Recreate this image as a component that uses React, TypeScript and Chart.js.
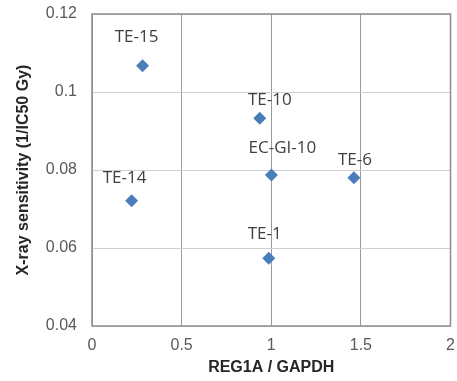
import React, { useEffect, useRef } from "react";
import { Chart, registerables } from "chart.js";

Chart.register(...registerables);

const cellLines = ["TE-15", "TE-14", "TE-10", "EC-GI-10", "TE-6", "TE-1"];
const reg1aValues = [0.282, 0.221, 0.936, 1.001, 1.461, 0.986];
const sensitivityValues = [0.1067, 0.0721, 0.0933, 0.0787, 0.078, 0.0574];
const xTickLabels = ["0", "0.5", "1", "1.5", "2"];
const yTickLabels = ["0.04", "0.06", "0.08", "0.1", "0.12"];
const labelOffsets: [number, number][] = [
  [-6, -29],
  [-7, -23],
  [10, -18],
  [11, -27],
  [1, -18],
  [-4, -24],
];

const labelPlugin = {
  id: "pointLabels",
  afterDatasetsDraw(chart: any) {
    const ctx = chart.ctx;
    const meta = chart.getDatasetMeta(0);
    ctx.save();
    ctx.font = "17px 'Open Sans'";
    ctx.fillStyle = "#404040";
    ctx.textAlign = "center";
    ctx.textBaseline = "middle";
    meta.data.forEach((pt: any, i: number) => {
      const [dx, dy] = labelOffsets[i];
      ctx.fillText(cellLines[i], pt.x + dx, pt.y + dy);
    });
    ctx.restore();
  },
};

const borderPlugin = {
  id: "plotBorder",
  afterDraw(chart: any) {
    const { ctx, chartArea } = chart;
    ctx.save();
    ctx.strokeStyle = "#8c8c8c";
    ctx.lineWidth = 1.5;
    ctx.strokeRect(chartArea.left, chartArea.top, chartArea.right - chartArea.left, chartArea.bottom - chartArea.top);
    ctx.restore();
  },
};

export default function App() {
  const ref = useRef<HTMLCanvasElement>(null);
  useEffect(() => {
    if (!ref.current) return;
    const chart = new Chart(ref.current, {
      type: "scatter",
      data: {
        datasets: [
          {
            data: reg1aValues.map((x, i) => ({ x, y: sensitivityValues[i] })),
            pointStyle: "rectRot",
            pointRadius: 6.5,
            pointHoverRadius: 6.5,
            backgroundColor: "#4a7ebb",
            borderColor: "#4a7ebb",
            borderWidth: 0,
          },
        ],
      },
      options: {
        animation: false,
        responsive: false,
        layout: { padding: { left: 10, right: 6, top: 14, bottom: 0 } },
        plugins: { legend: { display: false }, tooltip: { enabled: false } },
        scales: {
          x: {
            type: "linear",
            min: 0,
            max: 2,
            ticks: {
              stepSize: 0.5,
              padding: 10,
              color: "#595959",
              font: { family: "'Liberation Sans'", size: 16 },
              callback: (_v: any, i: number) => xTickLabels[i],
            },
            grid: { color: "#9a9a9a", drawTicks: false },
            border: { display: false },
            title: {
              display: true,
              text: "REG1A / GAPDH",
              color: "#262626",
              font: { family: "'Liberation Sans'", size: 16, weight: "bold" },
              padding: { top: 4, bottom: 4 },
            },
            afterFit(scale: any) {
              scale.height = 55;
              scale.paddingLeft = 0;
              scale.paddingRight = 0;
            },
          },
          y: {
            type: "linear",
            min: 0.04,
            max: 0.12,
            ticks: {
              stepSize: 0.02,
              padding: 15,
              color: "#595959",
              font: { family: "'Liberation Sans'", size: 16 },
              callback: (_v: any, i: number) => yTickLabels[i],
            },
            grid: { color: "#cfcfcf", drawTicks: false },
            border: { display: false },
            title: {
              display: true,
              text: "X-ray sensitivity (1/IC50 Gy)",
              color: "#262626",
              font: { family: "'Liberation Sans'", size: 16, weight: "bold" },
              padding: { top: 4, bottom: 4 },
            },
            afterFit(scale: any) {
              scale.width = 82;
              scale.paddingTop = 0;
              scale.paddingBottom = 0;
            },
          },
        },
      },
      plugins: [labelPlugin, borderPlugin],
    });
    return () => chart.destroy();
  }, []);
  return (
    <div style={{ position: "fixed", left: 0, top: 0, width: 457, height: 381, background: "#fff" }}>
      <canvas ref={ref} width={457} height={381} style={{ width: 457, height: 381 }} />
    </div>
  );
}
